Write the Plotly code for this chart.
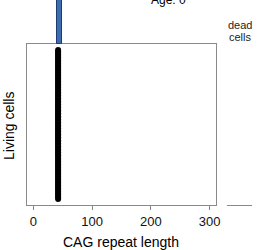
import plotly.graph_objects as go

# ---- data ----
age = 0
n_living = 100
living_cell_index = list(range(1, n_living + 1))
living_cag = [42] * n_living           # CAG repeat length of each living cell
hist_bin_centers = [44]                # histogram of repeat lengths (top panel)
hist_counts = [100]
hist_bin_width = 9
dead_cag = []                          # no dead cells at age 0
x_ticks = [0, 100, 200, 300]

W, H = 270, 250
L, R, T, B = 27, 18, 0, 45
pw, ph = W - L - R, H - T - B

def px(xp):
    return (xp - L) / pw

def py(yp):
    return (H - B - yp) / ph

grey = "#8a8a8a"
font = "Liberation Sans, Arial, sans-serif"

fig = go.Figure()

# living cells: one point per cell
fig.add_trace(go.Scatter(
    x=living_cag, y=living_cell_index, mode="markers",
    marker=dict(color="black", size=6, line=dict(width=0)),
    xaxis="x", yaxis="y", showlegend=False, hoverinfo="skip"))

# histogram above
fig.add_trace(go.Bar(
    x=hist_bin_centers, y=hist_counts, width=hist_bin_width,
    marker=dict(color="#3b6ead", line=dict(color="#1d3d6e", width=1)),
    xaxis="x2", yaxis="y2", showlegend=False, hoverinfo="skip"))

# dead cells panel (empty)
fig.add_trace(go.Scatter(
    x=dead_cag, y=[], mode="markers", marker=dict(color="black", size=6),
    xaxis="x3", yaxis="y3", showlegend=False, hoverinfo="skip"))

n = len(living_cell_index)
pad = 0.04 * (n - 1)
main_top = py(44)

fig.update_layout(
    width=W, height=H,
    margin=dict(l=L, r=R, t=T, b=B, pad=0),
    paper_bgcolor="white", plot_bgcolor="white",
    font=dict(family=font, color="black"),
    xaxis=dict(domain=[0, px(216)], range=[-11, 311], tickvals=x_ticks,
               ticktext=[str(v) for v in x_ticks],
               showline=True, mirror=True, linecolor=grey, linewidth=1,
               ticks="outside", ticklen=4, tickcolor=grey, tickwidth=1,
               showgrid=False, zeroline=False,
               tickfont=dict(size=13, color="#111"), anchor="y"),
    yaxis=dict(domain=[0, main_top], range=[1 - pad, n + pad],
               showline=True, mirror=True, linecolor=grey, linewidth=1,
               showticklabels=False, ticks="", showgrid=False, zeroline=False,
               anchor="x"),
    xaxis2=dict(domain=[0, px(216)], matches="x", visible=False, anchor="y2"),
    yaxis2=dict(domain=[main_top, 1], range=[0, 10], visible=False, anchor="x2"),
    xaxis3=dict(domain=[px(227), 1], range=[0, 1], showline=True,
                linecolor=grey, linewidth=1, ticks="", showticklabels=False,
                showgrid=False, zeroline=False, anchor="y3"),
    yaxis3=dict(domain=[0, main_top], range=[0, 1], visible=False, anchor="x3"),
    bargap=0,
)

ann = [
    dict(text="Living cells", x=px(9), y=py(126), textangle=-90,
         font=dict(size=14)),
    dict(text="CAG repeat length", x=px(121), y=py(242), font=dict(size=14)),
    dict(text=f"Age: {age}", x=px(168), y=py(0), yanchor="middle",
         font=dict(size=12)),
    dict(text="dead", x=px(240), y=py(25), font=dict(size=11, color="#222")),
    dict(text="cells", x=px(240), y=py(37), font=dict(size=11, color="#222")),
]
for a in ann:
    a.setdefault("yanchor", "middle")
    fig.add_annotation(xref="paper", yref="paper", xanchor="center",
                       showarrow=False, **a)

fig.write_html("out.html")
